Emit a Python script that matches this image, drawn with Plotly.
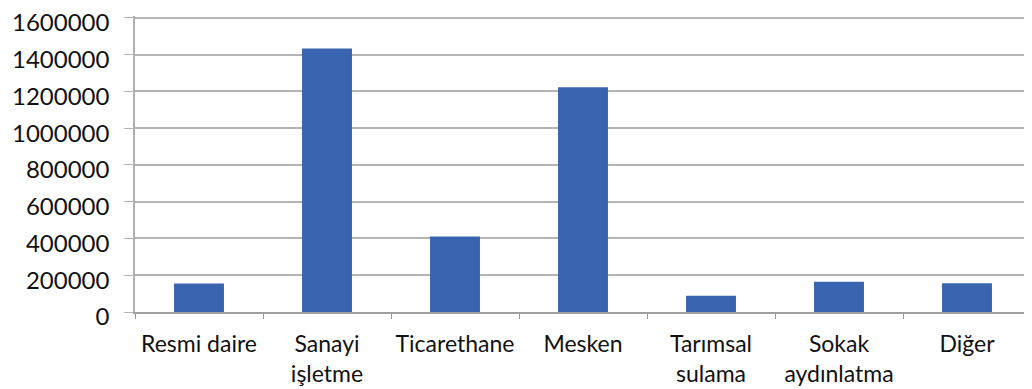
import plotly.graph_objects as go

categories = ["Resmi daire", "Sanayi işletme", "Ticarethane", "Mesken",
              "Tarımsal sulama", "Sokak aydınlatma", "Diğer"]
tick_labels = ["Resmi daire", "Sanayi<br>işletme", "Ticarethane", "Mesken",
               "Tarımsal<br>sulama", "Sokak<br>aydınlatma", "Diğer"]
values = [155000, 1433000, 410000, 1223000, 88000, 164000, 157000]
y_ticks = [0, 200000, 400000, 600000, 800000, 1000000, 1200000, 1400000, 1600000]

fig = go.Figure(go.Bar(x=categories, y=values, marker=dict(color="#3864b0", line=dict(width=0))))

fig.update_layout(
    width=1032, height=389,
    margin=dict(l=127, r=9, t=8, b=85, autoexpand=False),
    paper_bgcolor="white", plot_bgcolor="white",
    font=dict(family="Lato", size=24, color="#111111"),
    bargap=0.61, showlegend=False,
)
fig.update_xaxes(
    tickmode="array", tickvals=categories, ticktext=tick_labels,
    tickson="boundaries", ticks="outside", ticklen=5, tickcolor="#999999",
    showline=True, linecolor="#a0a0a0", linewidth=1.5,
    showgrid=False, ticklabelstandoff=11, automargin=False,
    tickangle=0, tickfont=dict(size=23),
)
fig.update_yaxes(
    range=[0, 1610000], tickmode="array", tickvals=y_ticks,
    ticktext=[str(v) for v in y_ticks],
    showgrid=True, gridcolor="#b4b4b4", gridwidth=1.5,
    ticks="outside", ticklen=9, tickcolor="#b4b4b4",
    showline=True, linecolor="#b0b0b0", linewidth=1.5,
    zeroline=False, ticklabelstandoff=10, ticklabelshift=5, automargin=False,
    ticklabeloverflow="allow",
)

fig.write_html("out.html")
